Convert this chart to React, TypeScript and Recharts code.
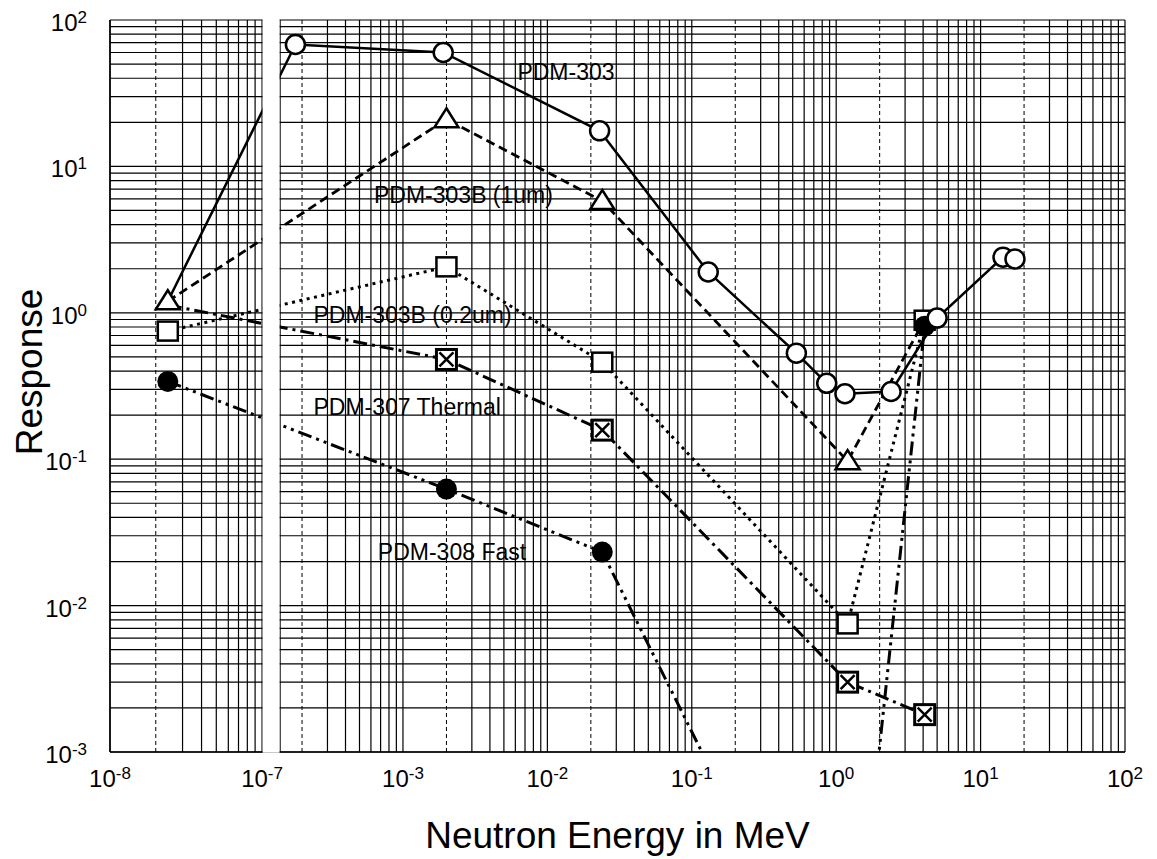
import React from 'react';
import {
  LineChart,
  Line,
  XAxis,
  YAxis,
  CartesianGrid,
  ReferenceLine,
  ReferenceArea,
  ReferenceDot,
} from 'recharts';

const FONT = '"Liberation Sans", Arial, Helvetica, sans-serif';

// neutron energy (MeV) and response
const pdm303Energy = [2.4e-8, 1.8e-4, 1.9e-3, 0.023, 0.13, 0.53, 0.86, 1.15, 2.4, 5.0, 14.3, 17.3];
const pdm303Resp = [1.2, 68, 60, 17.5, 1.9, 0.53, 0.33, 0.28, 0.29, 0.92, 2.4, 2.33];

const pdm303b1Energy = [2.4e-8, 2e-3, 0.024, 1.2, 4.1];
const pdm303b1Resp = [1.2, 21, 5.8, 0.097, 0.9];

const pdm303b02Energy = [2.4e-8, 2e-3, 0.024, 1.2, 4.1];
const pdm303b02Resp = [0.75, 2.06, 0.46, 0.0075, 0.89];

const pdm307Energy = [2.4e-8, 2e-3, 0.024, 1.2, 4.1];
const pdm307Resp = [1.13, 0.48, 0.158, 0.003, 0.0018];

const pdm308Energy = [2.4e-8, 2e-3, 0.024, 1.2, 4.1];
const pdm308Resp = [0.34, 0.0625, 0.0232, 1.0e-5, 0.81];

// in-plot series labels (left end of baseline)
const noteText = ['PDM-303', 'PDM-303B (1um)', 'PDM-303B (0.2um)', 'PDM-307 Thermal', 'PDM-308 Fast'];
const noteEnergy = [6.2e-3, 6.3e-4, 2.4e-4, 2.4e-4, 6.7e-4];
const noteResp = [39, 5.6, 0.85, 0.2, 0.0205];

const xTickExps = [-8, -7, -3, -2, -1, 0, 1, 2];
const yTickExps = [-3, -2, -1, 0, 1, 2];

// broken x axis: 1e-8..1e-7, gap, then RIGHT_MIN..1e2
const LEFT_W = 1.053;
const GAP = 0.125;
const RIGHT_MIN = 1.41e-4;
const X_MAX = 100;

const toU = (e: number) => {
  const l = Math.log10(e);
  if (l <= -7 + 1e-9) return (l + 8) * LEFT_W;
  return LEFT_W + GAP + (l - Math.log10(RIGHT_MIN));
};
const U_MAX = toU(X_MAX);

const isTwo = (v: number) => Math.abs(v / Math.pow(10, Math.floor(Math.log10(v) + 1e-9)) - 2) < 1e-6;

const xGridE: number[] = [];
for (let k = 1; k <= 10; k++) xGridE.push(k * 1e-8);
xGridE.push(RIGHT_MIN);
for (let d = -4; d <= 1; d++) {
  for (let k = 1; k <= 9; k++) {
    const v = k * Math.pow(10, d);
    if (v > RIGHT_MIN * 1.0001) xGridE.push(v);
  }
}
xGridE.push(X_MAX);
const xTicks = xGridE.filter((v) => !isTwo(v)).map(toU);
const xDashed = xGridE.filter((v) => isTwo(v)).map(toU);

const yTicks: number[] = [];
for (let d = -3; d <= 1; d++) for (let k = 1; k <= 9; k++) yTicks.push(k * Math.pow(10, d));
yTicks.push(100);

const xLabelMap = new Map<string, number>();
xTickExps.forEach((p) => xLabelMap.set(toU(Math.pow(10, p)).toFixed(4), p));

const makeData = (es: number[], rs: number[]) => es.map((e, i) => ({ u: toU(e), r: rs[i] }));

type MarkerKind = 'circle' | 'triangle' | 'square' | 'xsquare' | 'disc';

const drawMarker = (kind: MarkerKind, hide: number[]) => (p: any) => {
  const { cx, cy, index } = p;
  const key = `m-${kind}-${index}`;
  if (hide.includes(index) || cx == null || cy == null) return <g key={key} />;
  const s = { stroke: '#000', strokeWidth: 2.5, fill: '#fff' };
  switch (kind) {
    case 'circle':
      return <circle key={key} cx={cx} cy={cy} r={9.5} {...s} />;
    case 'triangle':
      return (
        <path key={key} d={`M${cx},${cy - 11} L${cx + 12},${cy + 8} L${cx - 12},${cy + 8} Z`} {...s} />
      );
    case 'square':
      return <rect key={key} x={cx - 10} y={cy - 9.5} width={20} height={19} {...s} />;
    case 'xsquare':
      return (
        <g key={key}>
          <rect x={cx - 10} y={cy - 10} width={20} height={20} {...s} strokeWidth={3} />
          <path d={`M${cx - 7},${cy - 7} L${cx + 7},${cy + 7} M${cx + 7},${cy - 7} L${cx - 7},${cy + 7}`} stroke="#000" strokeWidth={2.5} />
        </g>
      );
    default:
      return <circle key={key} cx={cx} cy={cy} r={10.5} fill="#000" />;
  }
};

const series = [
  { name: 'PDM-303B (1um)', data: makeData(pdm303b1Energy, pdm303b1Resp), dash: '9 5', width: 2.8, kind: 'triangle' as MarkerKind, hide: [4] },
  { name: 'PDM-303B (0.2um)', data: makeData(pdm303b02Energy, pdm303b02Resp), dash: '3 4.5', width: 3, kind: 'square' as MarkerKind, hide: [] },
  { name: 'PDM-307 Thermal', data: makeData(pdm307Energy, pdm307Resp), dash: '14 5 3 5', width: 3, kind: 'xsquare' as MarkerKind, hide: [0] },
  { name: 'PDM-308 Fast', data: makeData(pdm308Energy, pdm308Resp), dash: '14 5 3 5 3 5', width: 3, kind: 'disc' as MarkerKind, hide: [] },
  { name: 'PDM-303', data: makeData(pdm303Energy, pdm303Resp), dash: undefined, width: 2.5, kind: 'circle' as MarkerKind, hide: [0] },
];

const XTick = (props: any) => {
  const { x, y, payload } = props;
  const exp = xLabelMap.get(Number(payload.value).toFixed(4));
  if (exp === undefined) return <g />;
  return (
    <text x={x} y={y + 35} textAnchor="middle" fontSize={24} fill="#000" fontFamily={FONT}>
      10<tspan dy={-8} fontSize={17}>{exp}</tspan>
    </text>
  );
};

const YTick = (props: any) => {
  const { x, y, payload } = props;
  const lg = Math.log10(payload.value);
  const exp = Math.round(lg);
  if (Math.abs(lg - exp) > 1e-6 || !yTickExps.includes(exp)) return <g />;
  return (
    <text x={x - 23} y={y + 11} textAnchor="end" fontSize={24} fill="#000" fontFamily={FONT}>
      10<tspan dy={-8} fontSize={17}>{exp}</tspan>
    </text>
  );
};

export default function App() {
  return (
    <div style={{ position: 'absolute', left: 0, top: 0, width: 1157, height: 859, background: '#fff' }}>
      <LineChart width={1157} height={859} margin={{ top: 20, right: 32, bottom: 0, left: 0 }}>
        <CartesianGrid stroke="#000" strokeWidth={1.2} />
        <XAxis
          type="number"
          dataKey="u"
          domain={[0, U_MAX]}
          allowDataOverflow
          ticks={xTicks}
          interval={0}
          tick={<XTick />}
          tickLine={false}
          tickSize={0}
          tickMargin={0}
          height={107}
          axisLine={{ stroke: '#000', strokeWidth: 1.5 }}
          label={(p: any) => {
            const vb = p.viewBox;
            return (
              <text x={vb.x + vb.width / 2} y={vb.y + 96} textAnchor="middle" fontSize={37} fill="#000" fontFamily={FONT}>
                Neutron Energy in MeV
              </text>
            );
          }}
        />
        <YAxis
          type="number"
          scale="log"
          domain={[1e-3, 100]}
          allowDataOverflow
          ticks={yTicks}
          interval={0}
          tick={<YTick />}
          tickLine={false}
          tickSize={0}
          tickMargin={0}
          width={110}
          axisLine={{ stroke: '#000', strokeWidth: 1.5 }}
          label={(p: any) => {
            const vb = p.viewBox;
            const cx = vb.x + 42;
            const cy = vb.y + vb.height / 2 - 14;
            return (
              <text x={cx} y={cy} transform={`rotate(-90 ${cx} ${cy})`} textAnchor="middle" fontSize={37} fill="#000" fontFamily={FONT}>
                Response
              </text>
            );
          }}
        />
        {xDashed.map((u) => (
          <ReferenceLine key={`d${u}`} x={u} stroke="#000" strokeWidth={1} strokeDasharray="4 3" />
        ))}
        {series.map((s) => (
          <Line
            key={s.name}
            data={s.data}
            dataKey="r"
            type="linear"
            stroke="#000"
            strokeWidth={s.width}
            strokeDasharray={s.dash}
            dot={drawMarker(s.kind, s.hide)}
            activeDot={false}
            isAnimationActive={false}
          />
        ))}
        <ReferenceArea
          x1={LEFT_W + 0.004}
          x2={LEFT_W + GAP - 0.004}
          y1={0.00099}
          y2={101.5}
          ifOverflow="visible"
          fill="#fff"
          fillOpacity={1}
          stroke="none"
          zIndex={1500}
        />
        {noteText.map((t, i) => (
          <ReferenceDot
            key={t}
            x={toU(noteEnergy[i])}
            y={noteResp[i]}
            r={0}
            zIndex={1600}
            shape={(p: any) => (
              <text x={p.cx} y={p.cy} fontSize={23} fill="#000" fontFamily={FONT}>
                {t}
              </text>
            )}
          />
        ))}
      </LineChart>
    </div>
  );
}
